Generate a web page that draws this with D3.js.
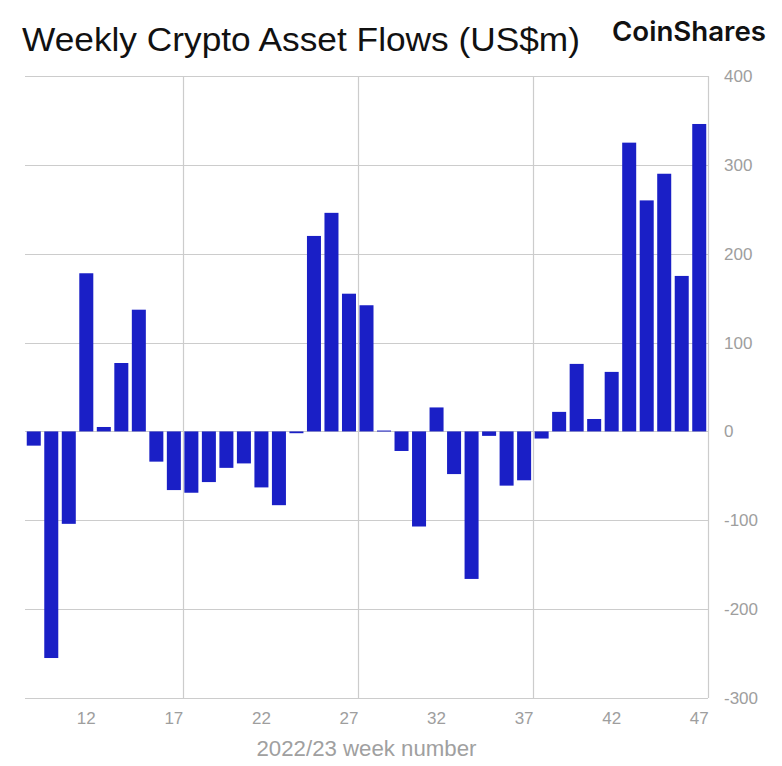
<!DOCTYPE html>
<html>
<head>
<meta charset="utf-8">
<style>
  body { margin: 0; background: #fff; }
  text { font-family: "Liberation Sans", Arial, sans-serif; }
  .tick-label { fill: #9e9e9e; font-size: 17px; }
</style>
</head>
<body>
<script src="https://d3js.org/d3.v7.min.js"></script>
<script>
// week numbers and weekly flows (US$m)
var weeks = d3.range(9, 48);
var flows = [-16, -255, -104, 178, 5, 77, 137, -34, -66, -69,
             -57, -41, -36, -63, -83, -2, 220, 246, 155, 142,
             1, -22, -107, 27, -48, -166, -5, -61, -55, -8,
             22, 76, 14, 67, 325, 260, 290, 175, 346];
var xTickWeeks = [12, 17, 22, 27, 32, 37, 42, 47];
var xGridWeeks = [17, 27, 37, 47];
var yTicks = [400, 300, 200, 100, 0, -100, -200, -300];

var data = weeks.map(function(w, i) { return {week: w, value: flows[i]}; });

var W = 782, H = 766;
var plot = {left: 25, right: 708, top: 76, bottom: 698};

var svg = d3.select("body").append("svg")
    .attr("width", W)
    .attr("height", H);

var x = d3.scaleBand()
    .domain(weeks)
    .range([plot.left, plot.right])
    .paddingInner(0.2)
    .paddingOuter(0.1);

var y = d3.scaleLinear()
    .domain([-300, 400])
    .range([plot.bottom, plot.top]);

// horizontal gridlines
svg.append("g").selectAll("line")
    .data(yTicks)
    .enter().append("line")
    .attr("x1", plot.left)
    .attr("x2", plot.right)
    .attr("y1", function(d) { return Math.round(y(d)) + 0.5; })
    .attr("y2", function(d) { return Math.round(y(d)) + 0.5; })
    .attr("stroke", "#cccccc")
    .attr("stroke-width", 1.2);

// vertical gridlines (at the band boundary after the week)
var half = (x.step() - x.bandwidth()) / 2;
svg.append("g").selectAll("line")
    .data(xGridWeeks)
    .enter().append("line")
    .attr("x1", function(d) { return Math.round(x(d) + x.bandwidth() + half) + 0.5; })
    .attr("x2", function(d) { return Math.round(x(d) + x.bandwidth() + half) + 0.5; })
    .attr("y1", plot.top)
    .attr("y2", plot.bottom)
    .attr("stroke", "#cccccc")
    .attr("stroke-width", 1.2);

// bars
svg.append("g").selectAll("rect")
    .data(data)
    .enter().append("rect")
    .attr("x", function(d) { return x(d.week); })
    .attr("width", x.bandwidth())
    .attr("y", function(d) { return y(Math.max(0, d.value)); })
    .attr("height", function(d) { return Math.max(1, Math.abs(y(d.value) - y(0))); })
    .attr("fill", "#1a1fc6");

// y labels on the right
svg.append("g").selectAll("text")
    .data(yTicks)
    .enter().append("text")
    .attr("class", "tick-label")
    .attr("x", 724)
    .attr("y", function(d) { return y(d); })
    .attr("dy", "0.35em")
    .text(function(d) { return d; });

// x labels
svg.append("g").selectAll("text")
    .data(xTickWeeks)
    .enter().append("text")
    .attr("class", "tick-label")
    .attr("x", function(d) { return x(d) + x.bandwidth() / 2; })
    .attr("y", 718)
    .attr("dy", "0.35em")
    .attr("text-anchor", "middle")
    .text(function(d) { return d; });

// axis title
svg.append("text")
    .attr("x", (plot.left + plot.right) / 2)
    .attr("y", 748)
    .attr("dy", "0.35em")
    .attr("text-anchor", "middle")
    .attr("textLength", 220)
    .attr("lengthAdjust", "spacingAndGlyphs")
    .style("font-size", "22px")
    .style("fill", "#a0a0a0")
    .text("2022/23 week number");

// title
svg.append("text")
    .attr("x", 22)
    .attr("y", 51)
    .attr("textLength", 558)
    .attr("lengthAdjust", "spacingAndGlyphs")
    .style("font-size", "34px")
    .style("fill", "#111")
    .text("Weekly Crypto Asset Flows (US$m)");

// brand
svg.append("text")
    .attr("x", 612)
    .attr("y", 41)
    .attr("textLength", 154)
    .attr("lengthAdjust", "spacingAndGlyphs")
    .style("font-family", "Inter, 'Liberation Sans', sans-serif")
    .style("font-size", "27px")
    .style("font-weight", "600")
    .style("fill", "#111")
    .text("CoinShares");
</script>
</body>
</html>
